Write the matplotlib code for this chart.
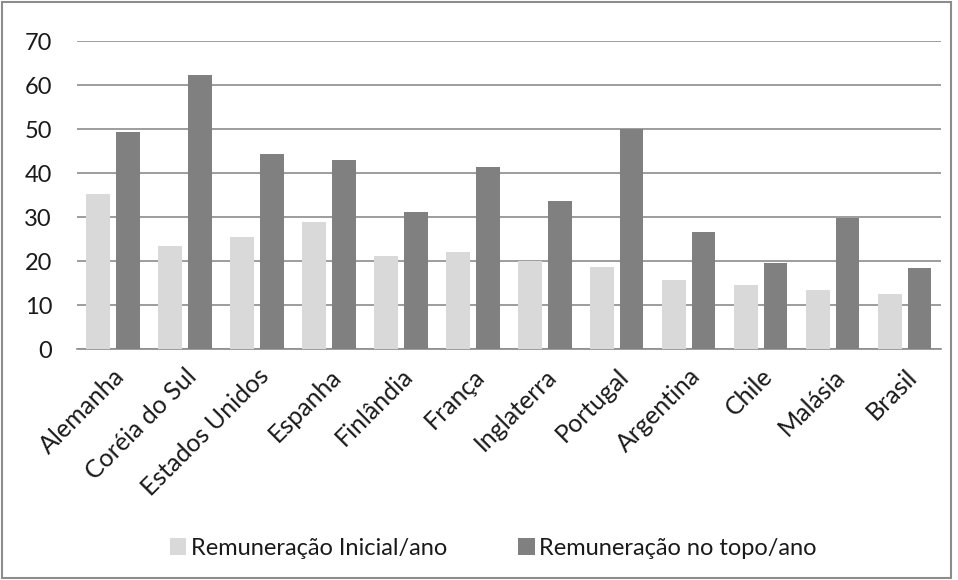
import numpy as np
import matplotlib
matplotlib.use("Agg")
import matplotlib.pyplot as plt
from matplotlib.patches import Rectangle

plt.rcParams['font.family'] = ['Lato', 'DejaVu Sans']

paises = ['Alemanha', 'Coréia do Sul', 'Estados Unidos', 'Espanha', 'Finlândia', 'França',
          'Inglaterra', 'Portugal', 'Argentina', 'Chile', 'Malásia', 'Brasil']
inicial = [35.3, 23.4, 25.4, 29.0, 21.1, 22.0, 20.0, 18.7, 15.8, 14.6, 13.5, 12.6]
topo = [49.4, 62.2, 44.4, 42.9, 31.2, 41.5, 33.6, 50.0, 26.6, 19.6, 29.9, 18.5]

fig = plt.figure(figsize=(9.58, 5.80), dpi=100)
ax = fig.add_axes([0.0804, 0.398, 0.9016, 0.531])

x = np.arange(len(paises))
ax.bar(x - 0.205, inicial, width=0.33, color='#D9D9D9', label='Remuneração Inicial/ano', zorder=3)
ax.bar(x + 0.205, topo, width=0.33, color='#808080', label='Remuneração no topo/ano', zorder=3)

ax.set_xlim(-0.5, len(paises) - 0.5)
ax.set_ylim(0, 70)
ax.set_yticks(range(0, 71, 10))
ax.yaxis.grid(True, color='#8C8C8C', linewidth=1.2, zorder=0)
ax.set_xticks(x)
ax.set_xticklabels(paises, rotation=45, ha='right', rotation_mode='anchor', fontsize=18)
ax.tick_params(axis='y', labelsize=17, length=0, pad=18, labelcolor='#1a1a1a')
ax.tick_params(axis='x', length=0, pad=11, labelcolor='#1a1a1a')
for s in ['top', 'right', 'left']:
    ax.spines[s].set_visible(False)
ax.spines['bottom'].set_color('#8C8C8C')
ax.spines['bottom'].set_linewidth(1.2)

fig.legend(loc='center', bbox_to_anchor=(0.515, 0.055), ncol=2, frameon=False, fontsize=17,
           handlelength=0.7, handleheight=0.7, handletextpad=0.2, columnspacing=3.0,
           labelcolor='#1a1a1a')

fig.patches.append(Rectangle((0.002, 0.004), 0.991, 0.992, transform=fig.transFigure,
                             fill=False, edgecolor='#8C8C8C', linewidth=1.5))

fig.savefig('out.png', dpi=100)
